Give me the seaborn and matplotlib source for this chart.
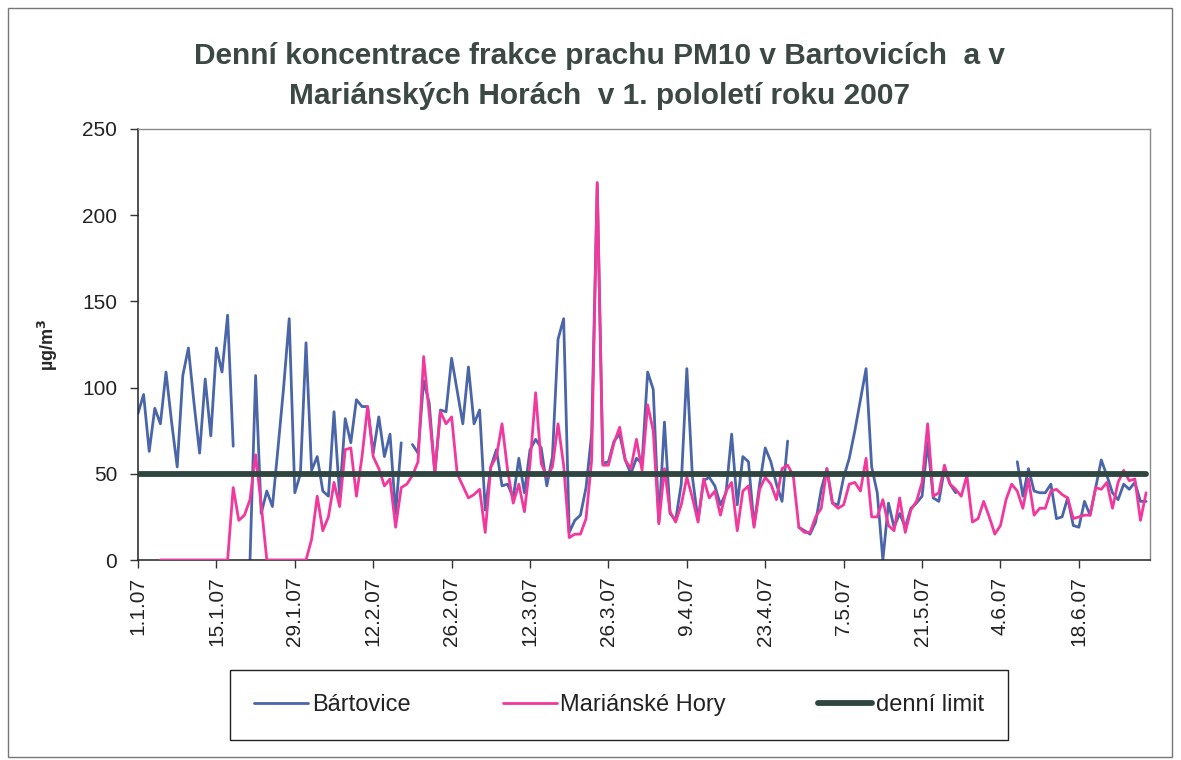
import numpy as np
import pandas as pd
import matplotlib
matplotlib.use("Agg")
import matplotlib.pyplot as plt
import seaborn as sns
from matplotlib.lines import Line2D
from matplotlib.patches import Rectangle
from matplotlib import font_manager

nan = np.nan

# ---- data (1.1.2007 - 30.6.2007, daily) ----
days = list(range(181))

bartovice = [
    85, 96, 63, 88, 79, 109, 80, 54, 107, 123, 91, 62, 105, 72, 123, 109, 142, 66, nan, nan,
    0, 107, 27, 40, 31, 65, 100, 140, 39, 50,
    126, 52, 60, 40, 37, 86, 37, 82, 68, 93,
    89, 89, 62, 83, 60, 73, 27, 68, nan, 67,
    62, 104, 91, 50, 87, 86, 117, 98, 79, 112,
    79, 87, 29, 54, 64, 43, 44, 36, 59, 39,
    64, 70, 65, 43, 60, 128, 140, 16, 23, 26,
    42, 73, 218, 56, 57, 69, 73, 58, 50, 59,
    56, 109, 99, 22, 80, 27, 23, 44, 111, 48,
    23, 46, 48, 43, 32, 39, 73, 32, 60, 57,
    20, 44, 65, 57, 44, 34, 69, nan, 19, 17,
    15, 22, 41, 53, 33, 32, 48, 59, 75, 93,
    111, 54, 39, 0, 33, 19, 27, 19, 30, 33,
    37, 68, 36, 34, 53, 44, 39, nan, nan, nan,
    nan, nan, nan, nan, nan, nan, nan, 57, 37, 53,
    40, 39, 39, 44, 24, 25, 36, 20, 19, 34,
    26, 42, 58, 49, 39, 35, 44, 41, 45, 34,
    34,
]

marianske_hory = [
    nan, nan, nan, nan, 0, 0, 0, 0, 0, 0, 0, 0, 0, 0, 0, 0, 0, 42, 23, 26,
    35, 61, 32, 0, 0, 0, 0, 0, 0, 0,
    0, 12, 37, 17, 25, 45, 31, 64, 65, 37,
    60, 89, 60, 53, 43, 47, 19, 42, 44, 49,
    57, 118, 85, 51, 86, 79, 83, 50, 43, 36,
    38, 41, 16, 54, 60, 79, 52, 33, 44, 28,
    56, 97, 56, 48, 54, 79, 55, 13, 15, 15,
    24, 58, 219, 55, 55, 68, 77, 58, 53, 70,
    52, 90, 75, 21, 53, 28, 22, 32, 48, 36,
    22, 47, 36, 40, 26, 40, 45, 17, 40, 43,
    19, 41, 48, 44, 35, 53, 55, 49, 19, 16,
    16, 25, 30, 53, 33, 30, 32, 44, 45, 40,
    59, 25, 25, 35, 20, 17, 36, 16, 29, 34,
    45, 79, 37, 39, 55, 44, 41, 37, 49, 22,
    24, 34, 25, 15, 20, 35, 44, 40, 30, 47,
    26, 30, 30, 40, 41, 38, 36, 24, 25, 26,
    26, 42, 41, 45, 30, 45, 52, 46, 47, 23,
    39,
]

denni_limit = 50

tick_days = [0, 14, 28, 42, 56, 70, 84, 98, 112, 126, 140, 154, 168]
tick_labels = ["1.1.07", "15.1.07", "29.1.07", "12.2.07", "26.2.07", "12.3.07",
               "26.3.07", "9.4.07", "23.4.07", "7.5.07", "21.5.07", "4.6.07", "18.6.07"]

series_names = ["Bártovice", "Mariánské Hory", "denní limit"]
y_ticks = [0, 50, 100, 150, 200, 250]

# ---- style ----
sns.set_style("white")
available = {f.name for f in font_manager.fontManager.ttflist}
base_font = "Liberation Sans" if "Liberation Sans" in available else "DejaVu Sans"
narrow_font = "Liberation Sans Narrow" if "Liberation Sans Narrow" in available else None
plt.rcParams["font.family"] = [base_font, "DejaVu Sans"]

c_blue = "#4a66a8"
c_pink = "#f2389c"
c_limit = "#2f4640"
c_title = "#3b4843"

W, H = 1181, 760
fig = plt.figure(figsize=(W / 100, H / 100), dpi=100)
fig.patch.set_facecolor("white")
ax = fig.add_axes([138 / W, 1 - 560 / H, (1150 - 138) / W, (560 - 129) / H])


def long_frame(values, name):
    s = pd.Series(values, dtype=float)
    seg = s.isna().cumsum()
    df = pd.DataFrame({"den": days, "hodnota": s, "rada": name,
                       "usek": [f"{name}-{k}" for k in seg]})
    return df.dropna()


df_b = long_frame(bartovice, series_names[0])
df_m = long_frame(marianske_hory, series_names[1])

sns.lineplot(data=df_b, x="den", y="hodnota", units="usek", estimator=None,
             color=c_blue, linewidth=2.0, legend=False, ax=ax, sort=False, zorder=2)
sns.lineplot(data=df_m, x="den", y="hodnota", units="usek", estimator=None,
             color=c_pink, linewidth=2.0, legend=False, ax=ax, sort=False, zorder=3)
sns.lineplot(x=days, y=[denni_limit] * len(days), color=c_limit, linewidth=4.2,
             legend=False, ax=ax, zorder=4)

ax.set_xlim(0, 180.7)
ax.set_ylim(0, 250)
ax.set_xticks(tick_days)
ax.set_xticklabels(tick_labels, rotation=90, fontsize=15, color="#222222")
ax.set_yticks(y_ticks)
ax.set_yticklabels([str(v) for v in y_ticks], fontsize=15, color="#222222")
ax.tick_params(axis="both", which="major", direction="out", length=6, width=1,
               color="#333333", bottom=True, left=True)
ax.tick_params(axis="y", pad=9)
ax.tick_params(axis="x", pad=6)
ax.set_xlabel("")
ax.set_ylabel("µg/m$^{\\mathbf{3}}$", fontsize=13, fontweight="bold", labelpad=16)

for side in ["left", "bottom"]:
    ax.spines[side].set_color("#222222")
    ax.spines[side].set_linewidth(1.1)
for side in ["top", "right"]:
    ax.spines[side].set_color("#8a8a8a")
    ax.spines[side].set_linewidth(1.0)
ax.grid(False)

# ---- title ----
if narrow_font:
    tkw = dict(family=[narrow_font, base_font], fontsize=23, fontweight="bold")
else:
    tkw = dict(family=[base_font], fontsize=21.5, fontweight="bold")
fig.text(600 / W, 1 - 56 / H, "Denní koncentrace frakce prachu PM10 v Bartovicích  a v",
         ha="center", va="center", color=c_title, **tkw)
fig.text(600 / W, 1 - 96 / H, "Mariánských Horách  v 1. pololetí roku 2007",
         ha="center", va="center", color=c_title, **tkw)

# ---- legend ----
handles = [Line2D([], [], color=c_blue, lw=2.0),
           Line2D([], [], color=c_pink, lw=2.0),
           Line2D([], [], color=c_limit, lw=4.2)]
leg = ax.legend(handles, series_names, loc="center",
                bbox_to_anchor=(619 / W, 1 - 705 / H), bbox_transform=fig.transFigure,
                ncol=3, frameon=True, fancybox=False, edgecolor="#222222", framealpha=1,
                handlelength=2.3, handletextpad=0.15, columnspacing=3.9, borderpad=1.0,
                fontsize=17)
leg.get_frame().set_linewidth(1.0)
for t in leg.get_texts():
    t.set_color("#222222")

# ---- outer chart border ----
fig.patches.append(Rectangle((8 / W, 1 - 757 / H), (1172 - 8) / W, (757 - 8) / H,
                             transform=fig.transFigure, fill=False,
                             edgecolor="#777777", linewidth=1.0))

fig.savefig("out.png", dpi=100)
